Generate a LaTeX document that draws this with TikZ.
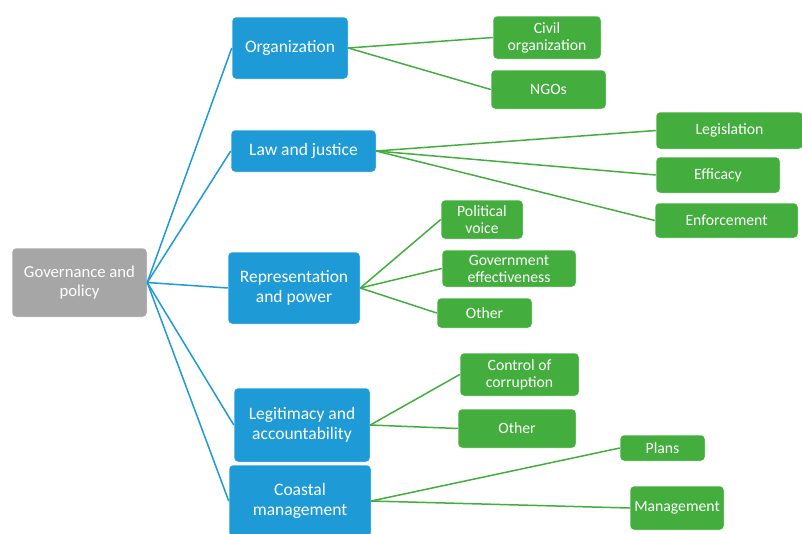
\documentclass[tikz,border=0pt]{standalone}
\usepackage{fontspec}
\setmainfont{Carlito}
\usepackage{tikz}
\definecolor{govgray}{HTML}{A6A6A6}
\definecolor{topicblue}{HTML}{1E9BD7}
\definecolor{itemgreen}{HTML}{43AE3D}
\tikzset{
  box/.style={rounded corners=4pt, draw=white, line width=0.5pt, text=white,
    align=center, inner sep=0pt},
  rootbox/.style={box, fill=govgray, font=\fontsize{16.7}{19}\selectfont},
  topicbox/.style={box, fill=topicblue, font=\fontsize{17.5}{19.5}\selectfont},
  itembox/.style={box, fill=itemgreen, font=\fontsize{15.7}{17}\selectfont},
  blueline/.style={topicblue, line width=1.5pt},
  greenline/.style={itemgreen, line width=1.5pt}
}

\begin{document}
\begin{tikzpicture}[x=1pt, y=-1pt]
    \useasboundingbox (0,0) rectangle (802,533);

    % Root
    \node[rootbox, minimum width=135, minimum height=69] (root) at (79.5,282.5) {Governance and\\policy};

    % Topics
    \node[topicbox, minimum width=116, minimum height=62] (org) at (290,48) {Organization};
    \node[topicbox, minimum width=145, minimum height=42] (law) at (303.5,151) {Law and justice};
    \node[topicbox, minimum width=132, minimum height=72] (rep) at (294,288) {Representation\\and power};
    \node[topicbox, minimum width=136, minimum height=74] (legit) at (302,425) {Legitimacy and\\accountability};
    \node[topicbox, minimum width=142, minimum height=72] (coast) at (300,501) {Coastal\\management};

    % Items
    \node[itembox, minimum width=108, minimum height=43] (civil) at (547,37.5) {Civil\\organization};
    \node[itembox, minimum width=115, minimum height=39] (ngo) at (548.5,89.5) {NGOs};
    \node[itembox, minimum width=147, minimum height=37] (legis) at (729.5,130.5) {Legislation};
    \node[itembox, minimum width=124, minimum height=36] (effic) at (718,175) {Efficacy};
    \node[itembox, minimum width=143, minimum height=35] (enforce) at (726.5,220.5) {Enforcement};
    \node[itembox, minimum width=82, minimum height=39] (voice) at (482,219.5) {Political\\voice};
    \node[itembox, minimum width=134, minimum height=37] (goveff) at (509,268.5) {Government\\effectiveness};
    \node[itembox, minimum width=95, minimum height=30] (repother) at (484.5,313) {Other};
    \node[itembox, minimum width=119, minimum height=43] (corrupt) at (519.5,374.5) {Control of\\corruption};
    \node[itembox, minimum width=118, minimum height=39] (legother) at (517,428.5) {Other};
    \node[itembox, minimum width=85, minimum height=26] (plans) at (662.5,448) {Plans};
    \node[itembox, minimum width=94, minimum height=44] (manage) at (677,508) {Management};

    % Root to topics
    \foreach \t in {org,law,rep,legit,coast} {
        \draw[blueline] (root.east) -- (\t.west);
    }

    % Topics to items
    \foreach \t/\i in {org/civil, org/ngo, law/legis, law/effic, law/enforce,
                       rep/voice, rep/goveff, rep/repother, legit/corrupt,
                       legit/legother, coast/plans, coast/manage} {
        \draw[greenline] (\t.east) -- (\i.west);
    }
\end{tikzpicture}
\end{document}
